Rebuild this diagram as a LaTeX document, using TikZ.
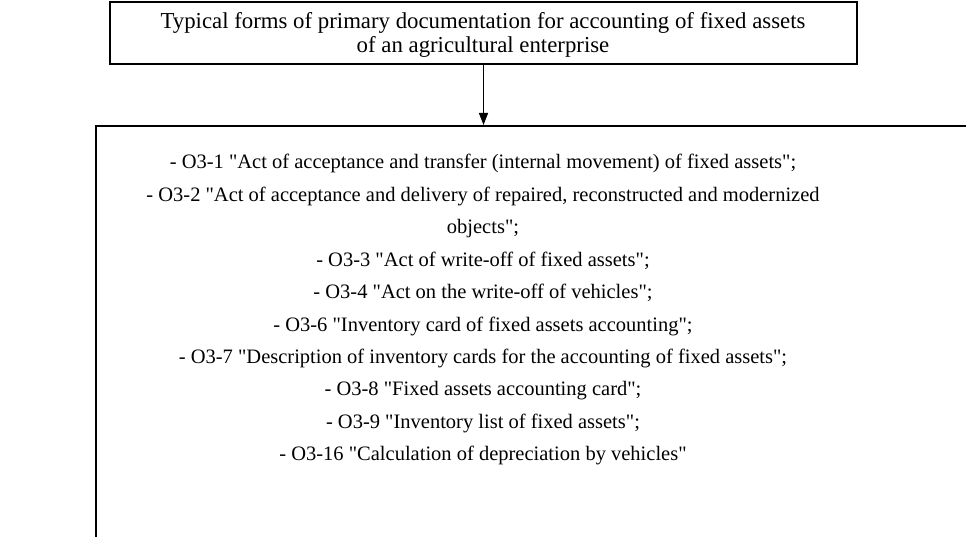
\documentclass[tikz,border=0pt]{standalone}
\usepackage{fontspec}
\setmainfont{Liberation Serif}[Ligatures=TeXOff]
\usetikzlibrary{arrows.meta}
\tikzset{
  frame/.style={draw=black, line width=2pt, rectangle, inner sep=0pt},
  toptext/.style={anchor=base, inner sep=0pt, font=\fontsize{22.8}{26}\selectfont},
  listtext/.style={anchor=base, inner sep=0pt, font=\fontsize{20.5}{32.4}\selectfont},
  link/.style={draw=black, line width=1.3pt, -{Triangle[length=12pt,width=9pt]}}
}
\begin{document}
\begin{tikzpicture}[x=1pt,y=-1pt]
\useasboundingbox (0,0) rectangle (966,537);
\node[frame, minimum width=747pt, minimum height=62pt] (topbox) at (483.5,33) {};
\node[toptext] (t1) at (483,29) {Typical forms of primary documentation for accounting of fixed assets};
\node[toptext] (t2) at (483,53) {of an agricultural enterprise};
\node[frame, minimum width=904pt, minimum height=474pt] (botbox) at (548,363) {};
\foreach \txt [count=\i] in {
  {- O3-1 "Act of acceptance and transfer (internal movement) of fixed assets";},
  {- O3-2 "Act of acceptance and delivery of repaired, reconstructed and modernized},
  {objects";},
  {- O3-3 "Act of write-off of fixed assets";},
  {- O3-4 "Act on the write-off of vehicles";},
  {- O3-6 "Inventory card of fixed assets accounting";},
  {- O3-7 "Description of inventory cards for the accounting of fixed assets";},
  {- O3-8 "Fixed assets accounting card";},
  {- O3-9 "Inventory list of fixed assets";},
  {- O3-16 "Calculation of depreciation by vehicles"}
}{
  \node[listtext] (l\i) at (483,{169+32.4*(\i-1)}) {\txt};
}
\draw[link] (topbox.south) -- (topbox.south |- botbox.north);
\end{tikzpicture}
\end{document}
